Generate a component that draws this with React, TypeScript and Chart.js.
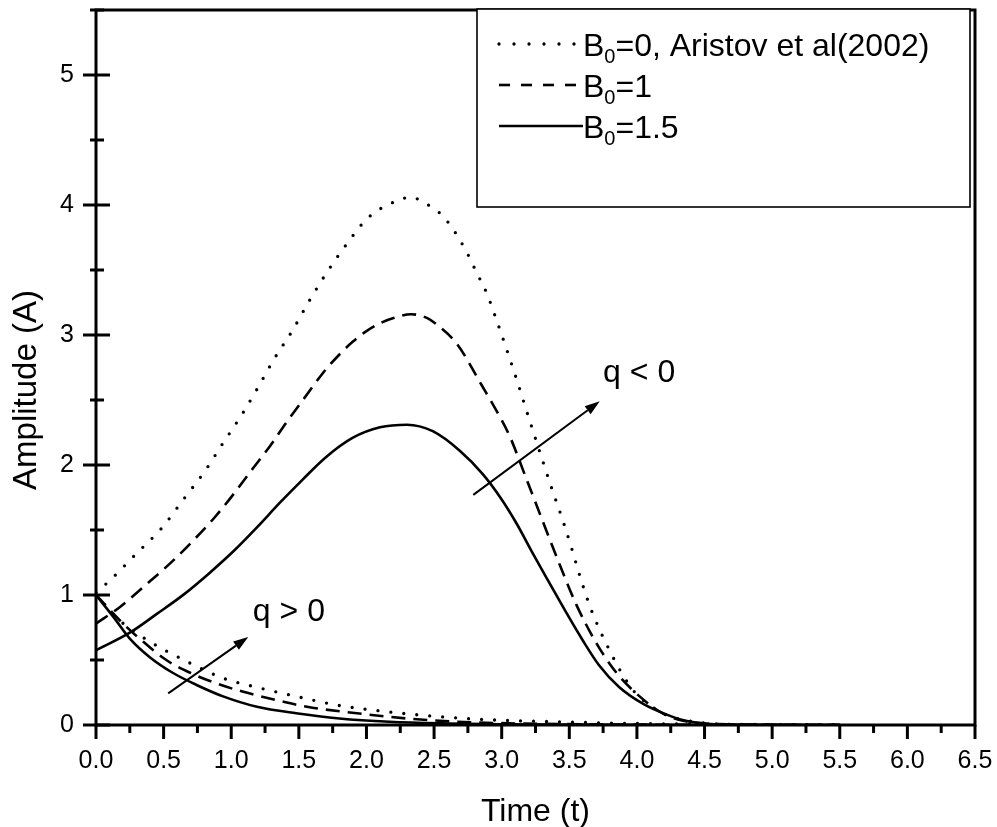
import React, { useEffect, useRef } from 'react';
import { Chart, registerables } from 'chart.js';

Chart.register(...registerables);

const FONT = '"Liberation Sans", Arial, Helvetica, sans-serif';

// ---- q < 0 curves (growing, then decaying pulse) ----
const tDotNeg = [0, 0.1, 0.3, 0.49, 0.65, 0.81, 0.94, 1.08, 1.2, 1.32, 1.45, 1.57, 1.7, 1.84, 2.01, 2.22, 2.33, 2.44, 2.54, 2.63, 2.75, 2.81, 2.89, 2.96, 3.04, 3.11, 3.18, 3.26, 3.31, 3.38, 3.45, 3.52, 3.58, 3.65, 3.73, 3.8, 3.87, 3.97, 4.07, 4.22, 4.34, 4.5, 4.7, 5.0, 5.5];
const aDotNeg = [1.02, 1.11, 1.32, 1.52, 1.74, 1.96, 2.17, 2.39, 2.6, 2.82, 3.03, 3.25, 3.47, 3.68, 3.9, 4.03, 4.06, 4.01, 3.94, 3.83, 3.62, 3.49, 3.32, 3.12, 2.88, 2.66, 2.43, 2.17, 2.01, 1.79, 1.58, 1.35, 1.14, 0.92, 0.72, 0.57, 0.43, 0.27, 0.17, 0.077, 0.04, 0.015, 0.005, 0.001, 0];

const tDashNeg = [0, 0.18, 0.36, 0.55, 0.72, 0.88, 1.02, 1.15, 1.29, 1.41, 1.53, 1.68, 1.8, 1.9, 2.0, 2.1, 2.2, 2.33, 2.45, 2.52, 2.67, 2.86, 2.96, 3.06, 3.18, 3.31, 3.43, 3.55, 3.7, 3.85, 4.02, 4.19, 4.35, 4.5, 4.7, 5.0, 5.5];
const aDashNeg = [0.78, 0.91, 1.07, 1.245, 1.42, 1.6, 1.78, 1.96, 2.15, 2.33, 2.5, 2.71, 2.85, 2.95, 3.03, 3.09, 3.13, 3.16, 3.13, 3.08, 2.93, 2.6, 2.42, 2.22, 1.9, 1.55, 1.23, 0.93, 0.63, 0.4, 0.22, 0.09, 0.03, 0.012, 0.004, 0.001, 0];

const tSolidNeg = [0, 0.25, 0.45, 0.65, 0.84, 1.02, 1.19, 1.36, 1.53, 1.7, 1.9, 2.1, 2.3, 2.49, 2.69, 2.86, 2.99, 3.11, 3.23, 3.36, 3.48, 3.6, 3.72, 3.87, 4.05, 4.22, 4.37, 4.5, 4.7, 5.0, 5.5];
const aSolidNeg = [0.575, 0.71, 0.855, 1.005, 1.17, 1.34, 1.52, 1.71, 1.89, 2.06, 2.21, 2.29, 2.31, 2.26, 2.11, 1.93, 1.75, 1.55, 1.32, 1.08, 0.86, 0.65, 0.46, 0.29, 0.16, 0.08, 0.03, 0.012, 0.003, 0.001, 0];

// ---- q > 0 curves (decaying) ----
const tDotPos = [0, 0.18, 0.4, 0.65, 0.94, 1.19, 1.48, 1.8, 2.17, 2.54, 2.91, 3.4, 3.8, 4.3, 5.0, 5.5];
const aDotPos = [1.0, 0.8, 0.64, 0.5, 0.36, 0.29, 0.22, 0.15, 0.1, 0.064, 0.04, 0.025, 0.015, 0.008, 0.003, 0.001];

const tDashPos = [0, 0.2, 0.35, 0.52, 0.7, 0.89, 1.09, 1.34, 1.56, 1.93, 2.3, 2.67, 3.1, 3.6, 4.2, 5.0, 5.5];
const aDashPos = [1.0, 0.78, 0.64, 0.5, 0.4, 0.32, 0.255, 0.19, 0.14, 0.09, 0.05, 0.025, 0.012, 0.006, 0.002, 0.0005, 0];

const tSolidPos = [0, 0.13, 0.25, 0.4, 0.57, 0.74, 0.94, 1.19, 1.48, 1.8, 2.17, 2.6, 3.0, 3.5, 4.0, 5.0, 5.5];
const aSolidPos = [1.0, 0.83, 0.665, 0.52, 0.4, 0.31, 0.22, 0.14, 0.09, 0.05, 0.025, 0.012, 0.006, 0.003, 0.001, 0, 0];

// ---- legend ----
const legendMain = ['B', 'B', 'B'];
const legendSub = ['0', '0', '0'];
const legendRest = ['=0, Aristov et al(2002)', '=1', '=1.5'];
const seriesLabels = ['B0=0, Aristov et al(2002)', 'B0=1', 'B0=1.5'];

// ---- ticks ----
const xTickLabels = ['0.0', '0.5', '1.0', '1.5', '2.0', '2.5', '3.0', '3.5', '4.0', '4.5', '5.0', '5.5', '6.0', '6.5'];
const yTickLabels = ['0', '1', '2', '3', '4', '5'];
const xTitle = 'Time (t)';
const yTitle = 'Amplitude (A)';

// ---- annotations (data coordinates) ----
const arrowFrom = [[0.534, 0.243], [2.79, 1.77]];
const arrowTo = [[1.126, 0.677], [3.725, 2.49]];
const noteText = ['q > 0', 'q < 0'];
const notePos = [[1.16, 0.8], [3.75, 2.64]];

const styles = [
  { dash: [0, 13], cap: 'round' as CanvasLineCap, width: 3.3 },
  { dash: [14, 8], cap: 'butt' as CanvasLineCap, width: 2.6 },
  { dash: [] as number[], cap: 'butt' as CanvasLineCap, width: 2.6 },
];

const pts = (t: number[], a: number[]) => t.map((x, i) => ({ x, y: a[i] }));

const overlay = {
  id: 'overlay',
  afterDraw(chart: any) {
    const { ctx, chartArea: ca, scales } = chart;
    const xs = scales.x;
    const ys = scales.y;
    ctx.save();
    ctx.strokeStyle = '#000';
    ctx.fillStyle = '#000';
    ctx.setLineDash([]);

    // frame
    ctx.lineWidth = 3;
    ctx.strokeRect(ca.left, ca.top, ca.right - ca.left, ca.bottom - ca.top);

    // x ticks
    for (const tk of xs.ticks) {
      const px = xs.getPixelForValue(tk.value);
      const major = Math.abs(tk.value * 2 - Math.round(tk.value * 2)) < 1e-6;
      ctx.beginPath();
      ctx.moveTo(px, ca.bottom);
      ctx.lineTo(px, ca.bottom + (major ? 14 : 8));
      ctx.stroke();
    }
    // y ticks
    for (const tk of ys.ticks) {
      const py = ys.getPixelForValue(tk.value);
      const major = Math.abs(tk.value - Math.round(tk.value)) < 1e-6;
      ctx.beginPath();
      ctx.moveTo(ca.left - (major ? 13 : 6), py);
      ctx.lineTo(ca.left + (major ? 14 : 8), py);
      ctx.stroke();
    }

    // legend box
    const lx0 = 477, ly0 = 9, lx1 = 970, ly1 = 207;
    ctx.fillStyle = '#fff';
    ctx.fillRect(lx0, ly0, lx1 - lx0, ly1 - ly0);
    ctx.fillStyle = '#000';
    ctx.lineWidth = 1.6;
    ctx.strokeRect(lx0, ly0, lx1 - lx0, ly1 - ly0);
    // legend rows
    const baselines = [56, 97, 138];
    const sampleEnd = [575, 582, 583];
    for (let i = 0; i < 3; i++) {
      const st = styles[i];
      const yl = baselines[i] - 12;
      ctx.lineWidth = st.width;
      ctx.lineCap = st.cap;
      ctx.setLineDash(i === 0 ? [0, 15] : i === 1 ? [11, 11] : []);
      ctx.beginPath();
      ctx.moveTo(499, yl);
      ctx.lineTo(sampleEnd[i], yl);
      ctx.stroke();
      ctx.setLineDash([]);
      ctx.lineCap = 'butt';
      let x = 583;
      ctx.textAlign = 'left';
      ctx.textBaseline = 'alphabetic';
      ctx.font = `32px ${FONT}`;
      ctx.fillText(legendMain[i], x, baselines[i]);
      x += ctx.measureText(legendMain[i]).width;
      ctx.font = `20px ${FONT}`;
      ctx.fillText(legendSub[i], x, baselines[i] + 7);
      x += ctx.measureText(legendSub[i]).width;
      ctx.font = `32px ${FONT}`;
      ctx.fillText(legendRest[i], x, baselines[i]);
    }

    // arrows
    ctx.lineWidth = 2;
    for (let i = 0; i < arrowFrom.length; i++) {
      const x0 = xs.getPixelForValue(arrowFrom[i][0]);
      const y0 = ys.getPixelForValue(arrowFrom[i][1]);
      const x1 = xs.getPixelForValue(arrowTo[i][0]);
      const y1 = ys.getPixelForValue(arrowTo[i][1]);
      const ang = Math.atan2(y1 - y0, x1 - x0);
      const hl = 15, hw = 5;
      const bx = x1 - hl * Math.cos(ang), by = y1 - hl * Math.sin(ang);
      ctx.beginPath();
      ctx.moveTo(x0, y0);
      ctx.lineTo(bx, by);
      ctx.stroke();
      ctx.beginPath();
      ctx.moveTo(x1, y1);
      ctx.lineTo(bx + hw * Math.sin(ang), by - hw * Math.cos(ang));
      ctx.lineTo(bx - hw * Math.sin(ang), by + hw * Math.cos(ang));
      ctx.closePath();
      ctx.fill();
    }
    // notes
    ctx.font = `32px ${FONT}`;
    ctx.textAlign = 'left';
    ctx.textBaseline = 'alphabetic';
    for (let i = 0; i < noteText.length; i++) {
      ctx.fillText(noteText[i], xs.getPixelForValue(notePos[i][0]), ys.getPixelForValue(notePos[i][1]));
    }

    // axis titles
    ctx.font = `32px ${FONT}`;
    ctx.textAlign = 'center';
    ctx.fillText(xTitle, (ca.left + ca.right) / 2, 821);
    ctx.save();
    ctx.translate(36, 390);
    ctx.rotate(-Math.PI / 2);
    ctx.font = `33px ${FONT}`;
    ctx.fillText(yTitle, 0, 0);
    ctx.restore();

    ctx.restore();
  },
};

export default function App() {
  const ref = useRef<HTMLCanvasElement | null>(null);
  useEffect(() => {
    if (!ref.current) return;
    const mk = (label: string, t: number[], a: number[], s: number) => ({
      label,
      data: pts(t, a),
      borderColor: '#000',
      backgroundColor: '#000',
      borderWidth: styles[s].width,
      borderDash: styles[s].dash,
      borderCapStyle: styles[s].cap,
      pointRadius: 0,
      fill: false,
      cubicInterpolationMode: 'monotone' as const,
    });
    const chart = new Chart(ref.current, {
      type: 'line',
      data: {
        datasets: [
          mk(seriesLabels[0], tDotNeg, aDotNeg, 0),
          mk(seriesLabels[1], tDashNeg, aDashNeg, 1),
          mk(seriesLabels[2], tSolidNeg, aSolidNeg, 2),
          mk(seriesLabels[0] + ' (q>0)', tDotPos, aDotPos, 0),
          mk(seriesLabels[1] + ' (q>0)', tDashPos, aDashPos, 1),
          mk(seriesLabels[2] + ' (q>0)', tSolidPos, aSolidPos, 2),
        ],
      },
      options: {
        animation: false,
        responsive: false,
        devicePixelRatio: 1,
        layout: { padding: { left: 0, right: 22, top: 10, bottom: 0 } },
        plugins: { legend: { display: false }, tooltip: { enabled: false } },
        scales: {
          x: {
            type: 'linear',
            min: 0,
            max: 6.5,
            grid: { display: false, drawTicks: false },
            border: { display: false },
            afterFit: (axis: any) => {
              axis.height = 102;
              axis.paddingLeft = 0;
              axis.paddingRight = 0;
              axis.paddingTop = 0;
              axis.paddingBottom = 0;
            },
            ticks: {
              stepSize: 0.25,
              autoSkip: false,
              maxRotation: 0,
              padding: 21,
              color: '#000',
              font: { family: FONT, size: 25 },
              callback: (v: any) => {
                const k = Number(v) * 2;
                return Math.abs(k - Math.round(k)) < 1e-6 ? xTickLabels[Math.round(k)] ?? '' : '';
              },
            },
          },
          y: {
            type: 'linear',
            min: 0,
            max: 5.5,
            grid: { display: false, drawTicks: false },
            border: { display: false },
            afterFit: (axis: any) => {
              axis.width = 96;
              axis.paddingLeft = 0;
              axis.paddingRight = 0;
              axis.paddingTop = 0;
              axis.paddingBottom = 0;
            },
            ticks: {
              stepSize: 0.5,
              autoSkip: false,
              padding: 22,
              color: '#000',
              font: { family: FONT, size: 25 },
              callback: (v: any) => {
                const n = Number(v);
                return Math.abs(n - Math.round(n)) < 1e-6 ? yTickLabels[Math.round(n)] ?? '' : '';
              },
            },
          },
        },
      },
      plugins: [overlay],
    });
    return () => chart.destroy();
  }, []);
  return (
    <canvas
      ref={ref}
      width={997}
      height={827}
      style={{ position: 'fixed', left: 0, top: 0, width: 997, height: 827, background: '#fff' }}
    />
  );
}
